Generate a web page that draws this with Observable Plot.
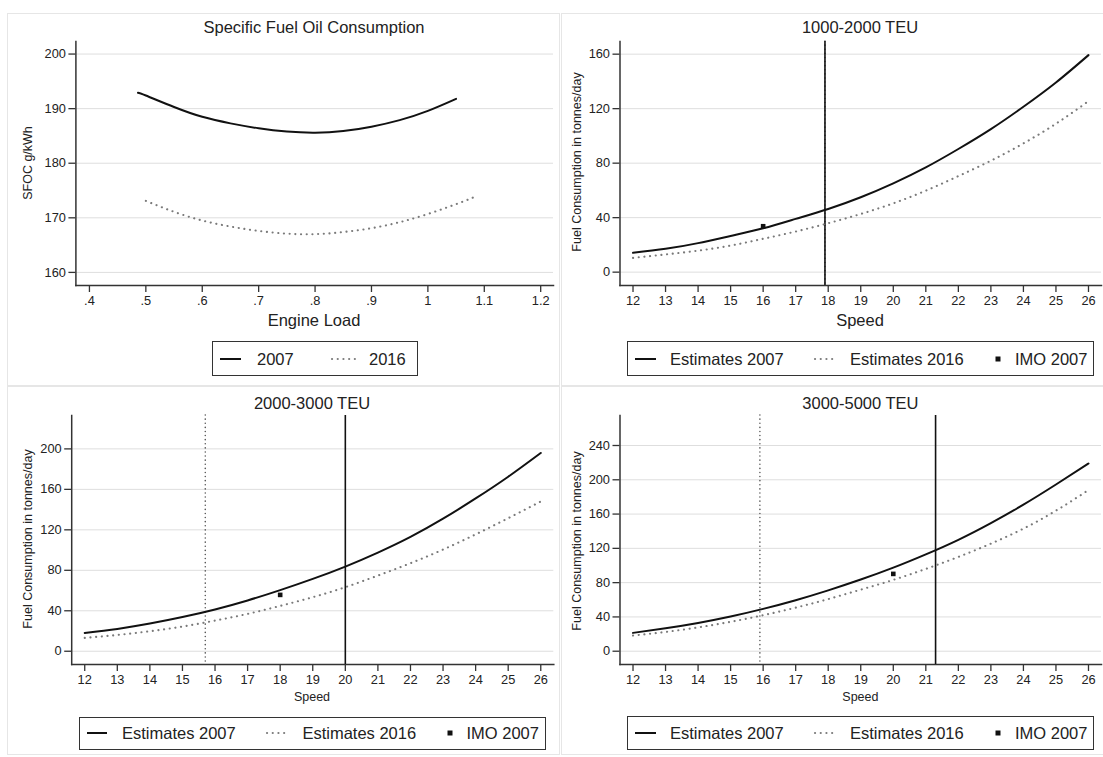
<!DOCTYPE html>
<html><head><meta charset="utf-8">
<script src="https://cdn.jsdelivr.net/npm/d3@7"></script>
<script src="https://cdn.jsdelivr.net/npm/@observablehq/plot@0.6"></script>
<style>
body{margin:0;background:#fff;font-family:"Liberation Sans",Arial,Helvetica,sans-serif;}
#root{position:relative;width:1103px;height:757px;overflow:hidden;background:#fff;}
.frame{position:absolute;border:1px solid #e6e6e6;box-sizing:border-box;}
.abs{position:absolute;white-space:nowrap;color:#222;line-height:1;}
.ctr{transform:translate(-50%,-50%);}
.ylab{transform:translate(-50%,-50%) rotate(-90deg);font-size:12.5px;}
.legend{position:absolute;border:1.3px solid #333;box-sizing:border-box;background:#fff;}
</style></head>
<body><div id="root"></div>
<script>
const FONT = '"Liberation Sans", Arial, Helvetica, sans-serif';

// ---------- Panel 1: Specific Fuel Oil Consumption ----------
const load2007 = [0.486, 0.5, 0.55, 0.6, 0.65, 0.7, 0.75, 0.8, 0.85, 0.9, 0.95, 1.0, 1.05];
const sfoc2007 = [192.9, 192.4, 190.3, 188.5, 187.3, 186.4, 185.8, 185.6, 185.9, 186.7, 187.9, 189.6, 191.8];
const load2016 = [0.5, 0.55, 0.6, 0.65, 0.7, 0.75, 0.8, 0.85, 0.9, 0.95, 1.0, 1.05, 1.08];
const sfoc2016 = [173.1, 171.1, 169.5, 168.4, 167.6, 167.1, 167.0, 167.4, 168.1, 169.2, 170.7, 172.5, 173.7];
const loadTicks = [0.4, 0.5, 0.6, 0.7, 0.8, 0.9, 1.0, 1.1, 1.2];
const loadTickLabels = [".4", ".5", ".6", ".7", ".8", ".9", "1", "1.1", "1.2"];
const sfocTicks = [160, 170, 180, 190, 200];

// ---------- Speed panels ----------
const speeds = [12, 13, 14, 15, 16, 17, 18, 19, 20, 21, 22, 23, 24, 25, 26];
const speedTicks = [12, 13, 14, 15, 16, 17, 18, 19, 20, 21, 22, 23, 24, 25, 26];

// 1000-2000 TEU
const teuA_2007 = [14.2, 17.1, 21.3, 26.6, 32.2, 39.1, 46.4, 55.0, 65.2, 76.9, 90.4, 105.0, 121.4, 139.2, 159.3];
const teuA_2016 = [10.5, 13.0, 15.8, 19.5, 24.5, 29.8, 35.9, 42.7, 50.5, 59.8, 70.5, 81.8, 94.5, 109.0, 125.5];
const teuA_imoSpeed = [16];
const teuA_imoFuel = [33.7];
const teuA_line2007 = [17.9];
const teuA_line2016 = [17.9];
const fuelTicksA = [0, 40, 80, 120, 160];

// 2000-3000 TEU
const teuB_2007 = [18.1, 22.1, 27.4, 33.8, 41.3, 50.2, 60.4, 71.5, 83.7, 97.5, 113.0, 131.0, 151.0, 172.5, 196.0];
const teuB_2016 = [13.2, 16.1, 19.8, 24.4, 30.3, 36.9, 44.8, 53.4, 63.3, 74.8, 87.0, 100.5, 115.5, 131.5, 148.0];
const teuB_imoSpeed = [18];
const teuB_imoFuel = [55.7];
const teuB_line2007 = [20.0];
const teuB_line2016 = [15.7];
const fuelTicksB = [0, 40, 80, 120, 160, 200];

// 3000-5000 TEU
const teuC_2007 = [21.4, 26.8, 33.0, 40.5, 49.4, 59.5, 71.0, 83.6, 97.5, 113.0, 130.0, 149.5, 171.0, 194.5, 219.0];
const teuC_2016 = [18.3, 22.5, 27.8, 34.3, 42.0, 50.8, 60.8, 71.8, 83.2, 96.0, 110.0, 125.5, 143.0, 164.0, 188.0];
const teuC_imoSpeed = [20];
const teuC_imoFuel = [90.2];
const teuC_line2007 = [21.3];
const teuC_line2016 = [15.9];
const fuelTicksC = [0, 40, 80, 120, 160, 200, 240];

const DOT_CURVE = "0.1,5.6";
const DOT_VLINE = "0.1,4";

const root = document.getElementById("root");

function el(cls, text, css) {
  const d = document.createElement("div");
  d.className = cls;
  if (text != null) d.textContent = text;
  Object.assign(d.style, css);
  root.appendChild(d);
  return d;
}

function drawPanel(p) {
  const rows07 = p.x07.map((x, i) => ({x, y: p.y07[i]}));
  const rows16 = p.x16.map((x, i) => ({x, y: p.y16[i]}));
  const marks = [
    Plot.gridY(p.yTicks, {stroke: "#dedede", strokeOpacity: 1, strokeWidth: 1}),
    Plot.axisY(p.yTicks, {tickSize: 7, tickPadding: 3, stroke: "#333", strokeWidth: 1.3, label: null, fontSize: 12.8}),
    Plot.axisX(p.xTicks, {tickSize: 7, tickPadding: 3, stroke: "#333", strokeWidth: 1.3, label: null, fontSize: 12.8, tickFormat: p.xFormat}),
    Plot.frame({anchor: "left", stroke: "#333", strokeWidth: 1.5}),
    Plot.frame({anchor: "bottom", stroke: "#333", strokeWidth: 1.5})
  ];
  if (p.v16) marks.push(Plot.ruleX(p.v16, {stroke: "#555", strokeWidth: 1.5, strokeDasharray: DOT_VLINE, strokeLinecap: "round"}));
  if (p.v07) marks.push(Plot.ruleX(p.v07, {stroke: "#111", strokeWidth: 1.6}));
  marks.push(Plot.line(rows16, {x: "x", y: "y", stroke: "#7a7a7a", strokeWidth: 2.1, strokeDasharray: DOT_CURVE, strokeLinecap: "round", curve: "natural"}));
  marks.push(Plot.line(rows07, {x: "x", y: "y", stroke: "#111", strokeWidth: 2, curve: "natural"}));
  if (p.imoX) {
    const imo = p.imoX.map((x, i) => ({x, y: p.imoY[i]}));
    marks.push(Plot.dot(imo, {x: "x", y: "y", symbol: "square", r: 2.6, fill: "#111", stroke: null}));
  }
  const svg = Plot.plot({
    width: p.w, height: p.h,
    marginLeft: p.ml, marginRight: p.mr, marginTop: p.mt, marginBottom: p.mb,
    x: {domain: p.xDomain},
    y: {domain: p.yDomain},
    style: {fontFamily: FONT, fontSize: "12.8px", color: "#222", background: "transparent", overflow: "visible"},
    marks
  });
  Object.assign(svg.style, {position: "absolute", left: p.left + "px", top: p.top + "px"});
  root.appendChild(svg);
}

function legend(box, items) {
  el("legend", null, {left: box[0] + "px", top: box[1] + "px", width: (box[2] - box[0]) + "px", height: (box[3] - box[1]) + "px"});
  const cy = (box[1] + box[3]) / 2;
  const ns = "http://www.w3.org/2000/svg";
  for (const it of items) {
    const s = document.createElementNS(ns, "svg");
    s.setAttribute("width", 40); s.setAttribute("height", 10);
    Object.assign(s.style, {position: "absolute", left: it.sx + "px", top: (cy - 5) + "px", overflow: "visible"});
    if (it.type === "square") {
      const r = document.createElementNS(ns, "rect");
      r.setAttribute("x", -2.5); r.setAttribute("y", 2.5); r.setAttribute("width", 5); r.setAttribute("height", 5); r.setAttribute("fill", "#111");
      s.appendChild(r);
    } else {
      const l = document.createElementNS(ns, "line");
      l.setAttribute("x1", 0); l.setAttribute("x2", it.len); l.setAttribute("y1", 5); l.setAttribute("y2", 5);
      if (it.type === "solid") { l.setAttribute("stroke", "#111"); l.setAttribute("stroke-width", 2); }
      else { l.setAttribute("stroke", "#7a7a7a"); l.setAttribute("stroke-width", 2.1); l.setAttribute("stroke-dasharray", DOT_CURVE); l.setAttribute("stroke-linecap", "round"); }
      s.appendChild(l);
    }
    root.appendChild(s);
    el("abs", it.label, {left: it.tx + "px", top: cy + "px", fontSize: "16.5px", transform: "translateY(-50%)"});
  }
}

// Panel frames
el("frame", null, {left: "7px", top: "13px", width: "553px", height: "373px"});
el("frame", null, {left: "561px", top: "13px", width: "550px", height: "373px"});
el("frame", null, {left: "7px", top: "386px", width: "553px", height: "369px"});
el("frame", null, {left: "561px", top: "386px", width: "550px", height: "369px"});

const fmtLoad = d => loadTickLabels[loadTicks.indexOf(d)];
const fmtSpeed = d => String(d);

// Panel 1
drawPanel({left: 0, top: 0, w: 560, h: 310, ml: 75.4, mr: 7, mt: 41, mb: 25,
  xDomain: [0.376, 1.2227], yDomain: [157.6, 202.3], xTicks: loadTicks, yTicks: sfocTicks, xFormat: fmtLoad,
  x07: load2007, y07: sfoc2007, x16: load2016, y16: sfoc2016});
el("abs ctr", "Specific Fuel Oil Consumption", {left: "314px", top: "27px", fontSize: "16.5px"});
el("abs ctr", "Engine Load", {left: "314px", top: "320px", fontSize: "16.5px"});
el("abs ylab", "SFOC g/kWh", {left: "28px", top: "163px"});
legend([211.5, 341, 418, 376], [
  {type: "solid", sx: 220, len: 21, tx: 257, label: "2007"},
  {type: "dot", sx: 332, len: 24, tx: 369, label: "2016"}
]);

// Panel 2
drawPanel({left: 560, top: 0, w: 543, h: 310, ml: 59.5, mr: 2, mt: 41, mb: 25,
  xDomain: [11.6, 26.4], yDomain: [-9.8, 169.3], xTicks: speedTicks, yTicks: fuelTicksA, xFormat: fmtSpeed,
  x07: speeds, y07: teuA_2007, x16: speeds, y16: teuA_2016,
  imoX: teuA_imoSpeed, imoY: teuA_imoFuel, v07: teuA_line2007, v16: teuA_line2016});
el("abs ctr", "1000-2000 TEU", {left: "860px", top: "27px", fontSize: "16.5px"});
el("abs ctr", "Speed", {left: "860px", top: "320px", fontSize: "16.5px"});
el("abs ylab", "Fuel Consumption in tonnes/day", {left: "576.5px", top: "162px"});
const legItems2 = [
  {type: "solid", sx: 635, len: 21, tx: 670, label: "Estimates 2007"},
  {type: "dot", sx: 814.5, len: 21, tx: 850, label: "Estimates 2016"},
  {type: "square", sx: 998, tx: 1015, label: "IMO 2007"}
];
legend([627, 341, 1094, 376], legItems2);

// Panel 3
drawPanel({left: 0, top: 380, w: 560, h: 310, ml: 71.2, mr: 6.7, mt: 35, mb: 26,
  xDomain: [11.6, 26.4], yDomain: [-13.1, 233], xTicks: speedTicks, yTicks: fuelTicksB, xFormat: fmtSpeed,
  x07: speeds, y07: teuB_2007, x16: speeds, y16: teuB_2016,
  imoX: teuB_imoSpeed, imoY: teuB_imoFuel, v07: teuB_line2007, v16: teuB_line2016});
el("abs ctr", "2000-3000 TEU", {left: "312px", top: "402.7px", fontSize: "16.5px"});
el("abs ctr", "Speed", {left: "312px", top: "696.7px", fontSize: "12.5px"});
el("abs ylab", "Fuel Consumption in tonnes/day", {left: "28px", top: "539px"});
legend([79, 716.7, 546, 750], [
  {type: "solid", sx: 87, len: 20, tx: 122, label: "Estimates 2007"},
  {type: "dot", sx: 266.6, len: 21, tx: 302.4, label: "Estimates 2016"},
  {type: "square", sx: 449.7, tx: 466.5, label: "IMO 2007"}
]);

// Panel 4
drawPanel({left: 560, top: 380, w: 543, h: 310, ml: 59.5, mr: 2, mt: 35, mb: 26,
  xDomain: [11.6, 26.4], yDomain: [-15.5, 275], xTicks: speedTicks, yTicks: fuelTicksC, xFormat: fmtSpeed,
  x07: speeds, y07: teuC_2007, x16: speeds, y16: teuC_2016,
  imoX: teuC_imoSpeed, imoY: teuC_imoFuel, v07: teuC_line2007, v16: teuC_line2016});
el("abs ctr", "3000-5000 TEU", {left: "860.4px", top: "402.7px", fontSize: "16.5px"});
el("abs ctr", "Speed", {left: "860.4px", top: "696.7px", fontSize: "12.5px"});
el("abs ylab", "Fuel Consumption in tonnes/day", {left: "576.5px", top: "540.7px"});
legend([627, 716, 1094, 750], legItems2);
</script>
</body></html>
